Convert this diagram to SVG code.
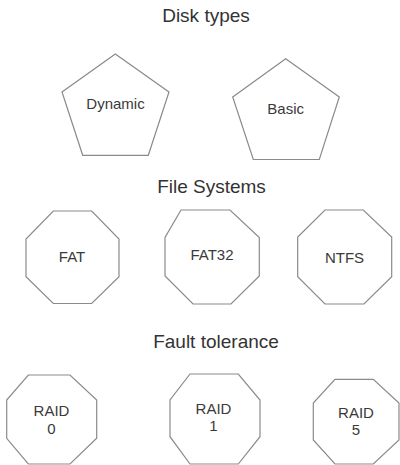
<svg xmlns="http://www.w3.org/2000/svg" width="400" height="465" viewBox="0 0 400 465">
<style>
.shape{fill:#ffffff;stroke:#8a8a8a;stroke-width:1.2;stroke-linejoin:miter}
.title{font-family:"Liberation Sans",Arial,sans-serif;font-size:19px;fill:#333333;text-anchor:middle}
.label{font-family:"Liberation Sans",Arial,sans-serif;font-size:15px;fill:#3a3a3a;text-anchor:middle}
</style>
<rect width="400" height="465" fill="#ffffff"/>
<g id="connectors"/>
<g id="title-disk-types"><text class="title" x="206" y="22">Disk types</text></g>
<g id="node-dynamic">
<polygon class="shape" points="115.3,54 169,92 148.3,155.3 82.7,155.3 62,92"/>
<text class="label" x="115.5" y="109">Dynamic</text>
</g>
<g id="node-basic">
<polygon class="shape" points="285.7,58.7 339.3,97 319.3,159.5 253.3,159.5 232.7,97"/>
<text class="label" x="285.7" y="113.5">Basic</text>
</g>
<g id="title-file-systems"><text class="title" x="211.5" y="192.5">File Systems</text></g>
<g id="node-fat">
<polygon class="shape" points="53.3,211 91.7,211 119,239 119,276.7 91.7,303.5 53.3,303.5 26,276.7 26,239"/>
<text class="label" x="72" y="262">FAT</text>
</g>
<g id="node-fat32">
<polygon class="shape" points="181,210 230,210 259.3,237.5 259.3,276 231,304 193,304 165,276 165,237.5"/>
<text class="label" x="212" y="260">FAT32</text>
</g>
<g id="node-ntfs">
<polygon class="shape" points="325,210 363.3,210 391.7,237 391.7,276.7 364,304 325,304 297.7,276.7 297.7,237"/>
<text class="label" x="344.5" y="262.5">NTFS</text>
</g>
<g id="title-fault-tolerance"><text class="title" x="216" y="347.5">Fault tolerance</text></g>
<g id="node-raid0">
<polygon class="shape" points="28.3,375 70,375 96.7,400 96.7,438.3 70,464 28.3,464 6.7,438.3 6.7,400"/>
<text class="label" x="51.5" y="416">RAID</text>
<text class="label" x="51.5" y="433.5">0</text>
</g>
<g id="node-raid1">
<polygon class="shape" points="190,374 238.3,374 260,400 260,436.7 238.3,464 190,464 170,436.7 170,400"/>
<text class="label" x="213.5" y="413.5">RAID</text>
<text class="label" x="213.5" y="431">1</text>
</g>
<g id="node-raid5">
<polygon class="shape" points="335,379.3 373.3,379.3 399,403 399,440 373.3,464 335,464 313.3,440 313.3,403"/>
<text class="label" x="356" y="417.5">RAID</text>
<text class="label" x="356" y="435">5</text>
</g>
</svg>
